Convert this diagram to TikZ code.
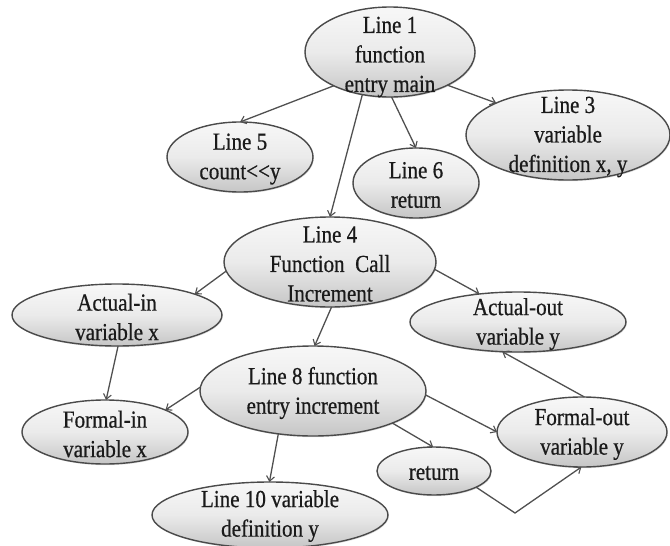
\documentclass[tikz,border=0pt]{standalone}
\usepackage{fontspec}
\setmainfont{Liberation Serif}[FakeStretch=0.86,FakeBold=0.6]
\usetikzlibrary{shapes.geometric,arrows.meta,shadows}
\definecolor{rim}{HTML}{4A4A4A}
\definecolor{wire}{HTML}{505050}
\definecolor{ink}{HTML}{1A1A1A}
\begin{document}
\begin{tikzpicture}[x=1pt,y=-1pt,
  ell/.style={ellipse,draw=rim,line width=1.4pt,inner sep=0pt,outer sep=0pt,
    top color=white!94!gray,bottom color=gray!45,middle color=gray!16,
    drop shadow={opacity=0.25,shadow xshift=0.8pt,shadow yshift=-1.2pt}},
  txt/.style={align=center,text=ink,font=\fontsize{24.5}{29.5}\selectfont,inner sep=0pt,yshift=-2pt},
  link/.style={draw=wire,line width=1.3pt,-{Straight Barb[length=5pt,width=8pt,line width=1.1pt]}}]
\useasboundingbox (0,0) rectangle (670,546);

% statement and parameter vertices
\node[ell,minimum width=170,minimum height=90,label={[txt,yshift=-3pt]center:{Line 1\\function\\entry main}}] (l1) at (390,52) {};
\node[ell,minimum width=204,minimum height=90,label={[txt]center:{Line 3\\variable\\definition x, y}}] (l3) at (568,135) {};
\node[ell,minimum width=146,minimum height=70,label={[txt]center:{Line 5\\count<{}<y}}] (l5) at (240,157) {};
\node[ell,minimum width=126,minimum height=70,label={[txt]center:{Line 6\\return}}] (l6) at (416,183) {};
\node[ell,minimum width=212,minimum height=90,label={[txt]center:{Line 4\\Function~ Call\\Increment}}] (l4) at (330,262) {};
\node[ell,minimum width=210,minimum height=62,label={[txt]center:{Actual-in\\variable x}}] (ain) at (117,315) {};
\node[ell,minimum width=216,minimum height=60,label={[txt]center:{Actual-out\\variable y}}] (aout) at (518,322) {};
\node[ell,minimum width=226,minimum height=90,label={[txt]center:{Line 8 function\\entry increment}}] (l8) at (313,391) {};
\node[ell,minimum width=166,minimum height=64,label={[txt]center:{Formal-in\\variable x}}] (fin) at (105,432) {};
\node[ell,minimum width=170,minimum height=70,label={[txt]center:{Formal-out\\variable y}}] (fout) at (582,432) {};
\node[ell,minimum width=114,minimum height=48,label={[txt]center:{return}}] (ret) at (434,471) {};
\node[ell,minimum width=236,minimum height=66,label={[txt,yshift=1pt]center:{Line 10 variable\\definition y}}] (l10) at (270,515) {};

% dependence edges
\draw[link] (l1.211) -- (l5.north);
\draw[link] (l1.237) -- (l4.north);
\draw[link] (l1.272) -- (l6.north);
\draw[link] (l1.330) -- (l3.156);
\draw[link] (l4.185) -- (ain.15);
\draw[link] (l4.356) -- (aout.144);
\draw[link] (l4.272) -- (l8.88);
\draw[link] (ain.272) -- (fin.88);
\draw[link] (l8.178) -- (fin.20);
\draw[link] (l8.231) -- (l10.91);
\draw[link] (l8.338) -- (ret.92);
\draw[link] (l8.358) -- (fout.180);
\draw[link] (fout.86) -- (aout.242);
\coordinate (bend) at (515,513);
\draw[link] (ret.339) -- (bend) -- (fout.269);
\end{tikzpicture}
\end{document}
